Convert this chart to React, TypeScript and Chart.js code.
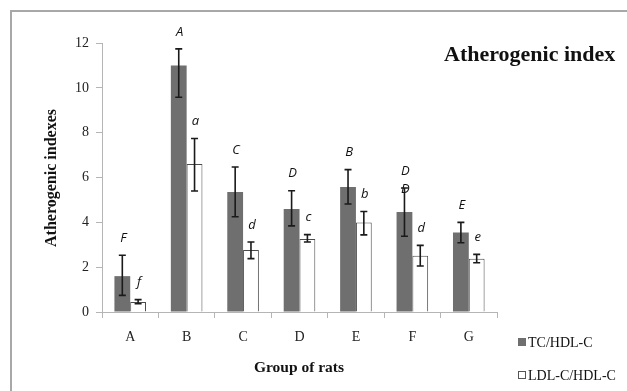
import React, { useEffect, useRef } from "react";
import { Chart, registerables } from "chart.js";

Chart.register(...registerables);

const categories = ["A", "B", "C", "D", "E", "F", "G"];
const tcMean = [1.6, 11.0, 5.35, 4.6, 5.58, 4.46, 3.55];
const tcHigh = [2.53, 11.74, 6.47, 5.41, 6.35, 5.53, 4.0];
const tcLow = [0.74, 9.58, 4.25, 3.84, 4.82, 3.38, 3.09];
const ldlMean = [0.45, 6.6, 2.77, 3.26, 3.99, 2.51, 2.38];
const ldlHigh = [0.55, 7.74, 3.12, 3.45, 4.48, 2.97, 2.57];
const ldlLow = [0.37, 5.4, 2.38, 3.12, 3.44, 2.05, 2.2];
const tcLetters = ["F", "A", "C", "D", "B", "D", "E"];
const ldlLetters = ["f", "a", "d", "c", "b", "d", "e"];
const yTicks = [0, 2, 4, 6, 8, 10, 12];

const serif = "'Liberation Serif', 'Times New Roman', serif";

const overlay = {
  id: "overlay",
  afterDatasetsDraw(chart: any) {
    const ctx = chart.ctx;
    const y = chart.scales.y;
    const highs = [tcHigh, ldlHigh];
    const lows = [tcLow, ldlLow];
    const letters = [tcLetters, ldlLetters];
    ctx.save();
    [0, 1].forEach((di) => {
      const meta = chart.getDatasetMeta(di);
      meta.data.forEach((bar: any, i: number) => {
        const x = bar.x;
        const yh = y.getPixelForValue(highs[di][i]);
        const yl = y.getPixelForValue(lows[di][i]);
        ctx.strokeStyle = "#1a1a1a";
        ctx.lineWidth = 1.6;
        ctx.beginPath();
        ctx.moveTo(x, yh);
        ctx.lineTo(x, yl);
        ctx.moveTo(x - 3.5, yh);
        ctx.lineTo(x + 3.5, yh);
        ctx.moveTo(x - 3.5, yl);
        ctx.lineTo(x + 3.5, yl);
        ctx.stroke();
        ctx.fillStyle = "#111";
        ctx.font = "italic 13px 'Open Sans', sans-serif";
        ctx.textAlign = "center";
        ctx.textBaseline = "middle";
        ctx.fillText(letters[di][i], x + 1, yh - 17);
        if (di === 0 && i === 5) {
          ctx.fillText(letters[di][i], x + 1, yh + 1);
        }
      });
    });
    ctx.restore();
  },
  afterDraw(chart: any) {
    const ctx = chart.ctx;
    ctx.save();
    // frame
    ctx.strokeStyle = "#a8a8a8";
    ctx.lineWidth = 2;
    ctx.beginPath();
    ctx.moveTo(11, 400);
    ctx.lineTo(11, 11);
    ctx.lineTo(640, 11);
    ctx.stroke();
    // title
    ctx.fillStyle = "#111";
    ctx.textBaseline = "middle";
    ctx.textAlign = "left";
    ctx.font = `bold 22px ${serif}`;
    ctx.fillText("Atherogenic index", 444, 55);
    // x title
    ctx.textAlign = "center";
    ctx.font = `bold 15.5px ${serif}`;
    ctx.fillText("Group of rats", 299, 368);
    // y title
    ctx.save();
    ctx.translate(52, 178);
    ctx.rotate(-Math.PI / 2);
    ctx.font = `bold 16px ${serif}`;
    ctx.fillText("Atherogenic indexes", 0, 0);
    ctx.restore();
    // legend
    const items = [
      { label: chart.data.datasets[0].label, fill: "#6f6f6f", stroke: "#6f6f6f", y: 342 },
      { label: chart.data.datasets[1].label, fill: "#ffffff", stroke: "#555", y: 375 },
    ];
    ctx.textAlign = "left";
    ctx.font = `14px ${serif}`;
    items.forEach((it) => {
      ctx.fillStyle = it.fill;
      ctx.fillRect(518.5, it.y - 3.5, 7, 7);
      ctx.strokeStyle = it.stroke;
      ctx.lineWidth = 1;
      ctx.strokeRect(518.5, it.y - 3.5, 7, 7);
      ctx.fillStyle = "#111";
      ctx.fillText(it.label, 528, it.y + 1);
    });
    ctx.restore();
  },
};

export default function App() {
  const ref = useRef<HTMLCanvasElement>(null);
  useEffect(() => {
    document.body.style.margin = "0";
    const chart = new Chart(ref.current!, {
      type: "bar",
      data: {
        labels: categories,
        datasets: [
          {
            label: "TC/HDL-C",
            data: tcMean,
            backgroundColor: "#6f6f6f",
            borderColor: "#6f6f6f",
            borderWidth: 0,
            categoryPercentage: 0.56,
            barPercentage: 1,
          },
          {
            label: "LDL-C/HDL-C",
            data: ldlMean,
            backgroundColor: "#ffffff",
            borderColor: "#4a4a4a",
            borderWidth: 1,
            categoryPercentage: 0.56,
            barPercentage: 1,
          },
        ],
      },
      options: {
        responsive: false,
        animation: false,
        devicePixelRatio: 1,
        layout: { padding: { left: 0, right: 130, top: 43, bottom: 0 } },
        plugins: { legend: { display: false }, tooltip: { enabled: false }, title: { display: false } },
        scales: {
          x: {
            afterFit: (s: any) => {
              s.height = 79;
            },
            grid: {
              offset: true,
              drawOnChartArea: false,
              tickLength: 6,
              color: "#b5b5b5",
            },
            border: { color: "#b5b5b5", width: 1 },
            ticks: { color: "#222", font: { family: serif, size: 14 }, padding: 11 },
          },
          y: {
            min: 0,
            max: 12,
            afterFit: (s: any) => {
              s.width = 102;
            },
            afterBuildTicks: (s: any) => {
              s.ticks = yTicks.map((v) => ({ value: v }));
            },
            grid: { drawOnChartArea: false, tickLength: 6, color: "#b5b5b5" },
            border: { color: "#b5b5b5", width: 1 },
            ticks: { color: "#222", font: { family: serif, size: 14 }, padding: 7 },
          },
        },
      },
      plugins: [overlay],
    });
    return () => chart.destroy();
  }, []);
  return <canvas ref={ref} width={627} height={391} style={{ display: "block" }} />;
}
